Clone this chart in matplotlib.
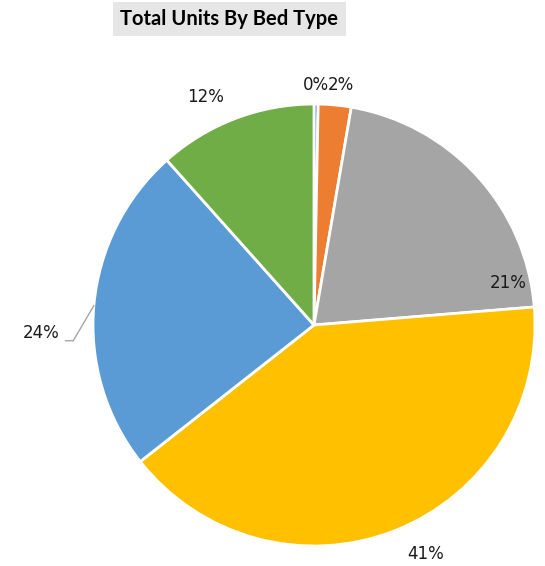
import numpy as np
import matplotlib
matplotlib.use("Agg")
import matplotlib.pyplot as plt

# Share of units per bed type (percent)
bed_types = ["Micro", "Studio", "1 Bed", "2 Bed", "3 Bed", "4 Bed"]
shares = [0.3, 2.4, 21.0, 40.7, 24.0, 11.6]
colors = ["#4472C4", "#ED7D31", "#A5A5A5", "#FFC000", "#5B9BD5", "#70AD47"]

# label placement: (radius factor, angle shift in degrees from slice middle)
label_pos = [(1.086, 0.0), (1.093, -1.0), (0.898, -30.3), (1.154, 4.6), (1.150, 6.8), (1.144, 4.6)]

fig = plt.figure(figsize=(5.45, 5.66), dpi=100)
ax = fig.add_axes([93 / 545, 20 / 566, 442 / 545, 442 / 566])

wedges, _ = ax.pie(shares, colors=colors, startangle=90, counterclock=False,
                   radius=1.0, wedgeprops=dict(edgecolor="white", linewidth=2))
ax.set_xlim(-1, 1)
ax.set_ylim(-1, 1)
ax.set_aspect("equal")
ax.axis("off")

total = sum(shares)
for i, (w, v) in enumerate(zip(wedges, shares)):
    mid = (w.theta1 + w.theta2) / 2.0
    r, shift = label_pos[i]
    ang = np.deg2rad(mid + shift)
    tx, ty = r * np.cos(ang), r * np.sin(ang)
    text = f"{v / total * 100:.0f}%"
    if i == 4:
        # label sits left of the pie, joined to the slice edge by a leader line
        ex, ey = np.cos(np.deg2rad(mid)), np.sin(np.deg2rad(mid))
        ly = ty - 0.036
        ax.plot([tx + 0.025, tx + 0.06, ex], [ly, ly, ey], color="#A6A6A6",
                lw=1, clip_on=False)
        ax.text(tx, ty, text, fontsize=12, ha="right", va="center",
                color="#1a1a1a")
    else:
        ax.text(tx, ty, text, fontsize=12, ha="center", va="center",
                color="#1a1a1a")

fig.text(229.5 / 545, 1 - 19 / 566, "Total Units By Bed Type", fontsize=14.5,
         fontweight="bold", family=["Lato", "DejaVu Sans"], ha="center",
         va="center", color="black",
         bbox=dict(boxstyle="square,pad=0.35", facecolor="#E7E6E6", edgecolor="none"))

fig.savefig("out.png", dpi=100)
